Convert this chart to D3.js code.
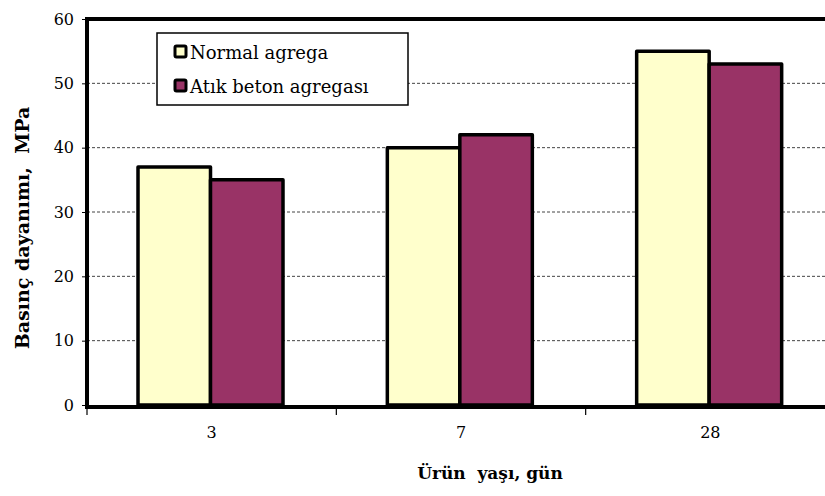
<!DOCTYPE html>
<html>
<head>
<meta charset="utf-8">
<script src="https://cdn.jsdelivr.net/npm/d3@7"></script>
<style>
body{margin:0;background:#fff;}
</style>
</head>
<body>
<svg id="chart" width="825" height="496"></svg>
<script>
const categories = ["3", "7", "28"];
const seriesNames = ["Normal agrega", "Atık beton agregası"];
const normalValues = [37, 40, 55];
const atikValues = [35, 42, 53];
const yTicks = [0, 10, 20, 30, 40, 50, 60];
const colors = ["#FFFFCC", "#993366"];

(function(){
const FONT = "DejaVu Serif";
const svg = d3.select("#chart");
const pLeft = 87, pRight = 835, pTop = 19, pBottom = 405;

const y = d3.scaleLinear().domain([0, 60]).range([pBottom, pTop]);
const x0 = d3.scaleBand().domain(categories).range([pLeft, pRight]).padding(0);
const x1 = d3.scaleBand().domain(seriesNames).range([51, 196]).padding(0);

svg.append("g").selectAll("line").data(yTicks.filter(d => d > 0 && d < 60)).join("line")
  .attr("x1", pLeft).attr("x2", 825)
  .attr("y1", d => y(d)).attr("y2", d => y(d))
  .attr("stroke", "#444").attr("stroke-width", 1).attr("stroke-dasharray", "3,2");

svg.append("line").attr("x1", pLeft - 2).attr("x2", 825).attr("y1", y(60)).attr("y2", y(60))
  .attr("stroke", "#000").attr("stroke-width", 4);

const data = categories.map((c, i) => ({cat: c, vals: [normalValues[i], atikValues[i]]}));
const groups = svg.append("g").selectAll("g").data(data).join("g")
  .attr("transform", d => `translate(${x0(d.cat)},0)`);
groups.selectAll("rect").data(d => d.vals.map((v, j) => ({s: seriesNames[j], v, j}))).join("rect")
  .attr("x", d => x1(d.s))
  .attr("width", x1.bandwidth())
  .attr("y", d => y(d.v))
  .attr("height", d => y(0) - y(d.v))
  .attr("fill", d => colors[d.j])
  .attr("stroke", "#000").attr("stroke-width", 3.5)
  .attr("stroke-linejoin", "round");

const yAxis = d3.axisLeft(y).tickValues(yTicks).tickSize(5).tickPadding(8).tickFormat(d3.format("d"));
const gy = svg.append("g").attr("transform", `translate(${pLeft},0)`).call(yAxis);
gy.attr("font-family", FONT);
gy.select(".domain").remove();
gy.selectAll(".tick line").attr("stroke", "#000").attr("stroke-width", 1);
gy.selectAll(".tick text").attr("font-size", 16).attr("fill", "#000");
svg.append("line").attr("x1", pLeft).attr("x2", pLeft).attr("y1", pTop - 2).attr("y2", pBottom + 2)
  .attr("stroke", "#000").attr("stroke-width", 4);

const xAxis = d3.axisBottom(x0).tickSize(0).tickPadding(20);
const gx = svg.append("g").attr("transform", `translate(0,${pBottom + 2})`).call(xAxis);
gx.attr("font-family", FONT);
gx.select(".domain").remove();
gx.selectAll(".tick text").attr("font-size", 16).attr("fill", "#000");
svg.append("line").attr("x1", pLeft - 2).attr("x2", 825).attr("y1", pBottom + 2).attr("y2", pBottom + 2)
  .attr("stroke", "#000").attr("stroke-width", 4);
const bounds = categories.map(c => x0(c)).concat([x0(categories[categories.length - 1]) + x0.bandwidth()]);
svg.append("g").selectAll("line").data(bounds).join("line")
  .attr("x1", d => d).attr("x2", d => d)
  .attr("y1", pBottom + 2).attr("y2", pBottom + 10)
  .attr("stroke", "#000").attr("stroke-width", 1.2);

svg.append("text").attr("transform", `translate(29,228) rotate(-90)`)
  .attr("font-family", FONT)
  .attr("text-anchor", "middle").attr("font-size", 19).attr("font-weight", "bold")
  .style("white-space", "pre")
  .text("Basınç dayanımı,  MPa");
svg.append("text").attr("x", 490).attr("y", 479)
  .attr("font-family", FONT)
  .attr("text-anchor", "middle").attr("font-size", 17).attr("font-weight", "bold")
  .style("white-space", "pre")
  .text("Ürün  yaşı, gün");

const lg = svg.append("g").attr("transform", "translate(157,33)");
lg.append("rect").attr("width", 251).attr("height", 72).attr("fill", "#fff")
  .attr("stroke", "#000").attr("stroke-width", 1.5);
seriesNames.forEach((s, i) => {
  const yy = 19 + i * 34;
  lg.append("rect").attr("x", 18).attr("y", yy - 6).attr("width", 11).attr("height", 11)
    .attr("fill", colors[i]).attr("stroke", "#000").attr("stroke-width", 3).attr("rx", 1.5);
  lg.append("text").attr("x", 33).attr("y", yy + 7).attr("font-size", 18)
    .attr("font-family", FONT)
    .text(s);
});
})();
</script>
</body>
</html>
